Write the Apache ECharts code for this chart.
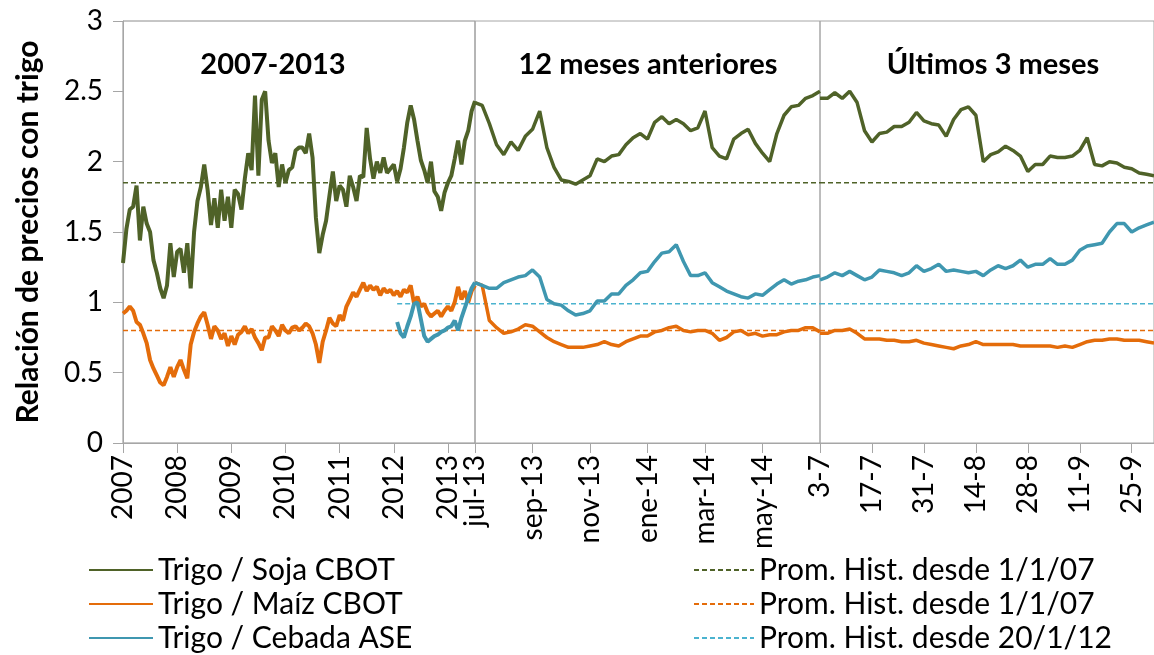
<!DOCTYPE html>
<html>
<head>
<meta charset="utf-8">
<script src="https://cdn.jsdelivr.net/npm/echarts@6/dist/echarts.min.js"></script>
<style>
html, body { margin: 0; padding: 0; background: #fff; }
#main { width: 1154px; height: 655px; }
</style>
</head>
<body>
<div id="main"></div>
<script>
// 2007-2013: un valor cada 1/16 de año desde 1/1/2007
const sojaHist = [1.28, 1.52, 1.66, 1.68, 1.83, 1.44, 1.68, 1.56, 1.50, 1.30, 1.21, 1.10, 1.03, 1.12, 1.42, 1.18,
  1.36, 1.38, 1.21, 1.42, 1.10, 1.50, 1.72, 1.82, 1.98, 1.80, 1.55, 1.74, 1.53, 1.80, 1.58, 1.75,
  1.53, 1.80, 1.77, 1.66, 1.88, 2.06, 1.94, 2.47, 1.90, 2.44, 2.50, 2.15, 1.99, 2.06, 1.82, 1.98,
  1.85, 1.94, 1.96, 2.08, 2.10, 2.10, 2.06, 2.20, 2.03, 1.60, 1.35, 1.48, 1.58, 1.76, 1.93, 1.72,
  1.83, 1.80, 1.68, 1.90, 1.82, 1.72, 1.90, 1.89, 2.24, 2.02, 1.88, 2.00, 1.92, 2.03, 1.92, 1.95,
  1.98, 1.86, 1.95, 2.10, 2.28, 2.40, 2.30, 2.15, 2.01, 1.94, 1.85, 2.00, 1.79, 1.75, 1.65, 1.78,
  1.85, 1.90, 2.02, 2.15, 1.98, 2.15, 2.22, 2.36, 2.43];
const maizHist = [0.92, 0.94, 0.97, 0.94, 0.86, 0.84, 0.78, 0.71, 0.59, 0.53, 0.48, 0.43, 0.41, 0.47, 0.54, 0.47,
  0.54, 0.59, 0.52, 0.46, 0.70, 0.79, 0.85, 0.90, 0.93, 0.84, 0.74, 0.83, 0.80, 0.74, 0.78, 0.69,
  0.76, 0.70, 0.77, 0.79, 0.83, 0.78, 0.81, 0.75, 0.71, 0.66, 0.75, 0.75, 0.83, 0.80, 0.76, 0.84,
  0.80, 0.78, 0.82, 0.83, 0.80, 0.82, 0.85, 0.83, 0.78, 0.70, 0.57, 0.72, 0.80, 0.89, 0.85, 0.83,
  0.91, 0.87, 0.97, 1.02, 1.07, 1.04, 1.09, 1.14, 1.08, 1.12, 1.09, 1.11, 1.05, 1.10, 1.07, 1.09,
  1.05, 1.08, 1.04, 1.09, 1.07, 1.12, 0.99, 1.04, 0.97, 0.99, 0.93, 0.90, 0.92, 0.94, 0.90, 0.94,
  0.97, 0.94, 1.00, 1.11, 1.02, 1.08, 1.00, 1.08, 1.12];
// cebada ASE desde ene-2012, mismo paso
const cebadaHistInicio = 2012.0625;
const cebadaHist = [0.86, 0.78, 0.75, 0.83, 0.90, 0.99, 1.00, 0.88, 0.76, 0.72, 0.74, 0.76, 0.77, 0.79, 0.80, 0.82,
  0.83, 0.87, 0.80, 0.89, 0.96, 1.03, 1.10, 1.14];

// 12 meses anteriores: un valor por semana (0.25 mes) desde jul-13
const soja12m = [2.42, 2.40, 2.27, 2.12, 2.05, 2.14, 2.08, 2.18, 2.23, 2.36, 2.10, 1.96, 1.87, 1.86, 1.84, 1.87,
  1.90, 2.02, 2.00, 2.04, 2.05, 2.12, 2.17, 2.20, 2.16, 2.28, 2.32, 2.27, 2.30, 2.27, 2.22, 2.24,
  2.36, 2.10, 2.04, 2.02, 2.16, 2.20, 2.23, 2.13, 2.06, 2.00, 2.20, 2.33, 2.39, 2.40, 2.45, 2.47, 2.50];
const maiz12m = [1.14, 1.12, 0.87, 0.82, 0.78, 0.79, 0.81, 0.84, 0.83, 0.79, 0.75, 0.72, 0.70, 0.68, 0.68, 0.68,
  0.69, 0.70, 0.72, 0.70, 0.69, 0.72, 0.74, 0.76, 0.76, 0.79, 0.80, 0.82, 0.83, 0.80, 0.79, 0.80,
  0.80, 0.78, 0.73, 0.75, 0.79, 0.80, 0.77, 0.78, 0.76, 0.77, 0.77, 0.79, 0.80, 0.80, 0.82, 0.82, 0.79];
const cebada12m = [1.14, 1.12, 1.10, 1.10, 1.14, 1.16, 1.18, 1.19, 1.23, 1.18, 1.02, 0.99, 0.98, 0.94, 0.91, 0.92,
  0.94, 1.01, 1.01, 1.06, 1.06, 1.12, 1.16, 1.21, 1.22, 1.29, 1.35, 1.36, 1.41, 1.29, 1.19, 1.19,
  1.21, 1.14, 1.11, 1.08, 1.06, 1.04, 1.03, 1.06, 1.05, 1.09, 1.13, 1.16, 1.13, 1.15, 1.16, 1.18, 1.19];

// últimos 3 meses: un valor cada 2 días desde 3-7
const soja3m = [2.45, 2.45, 2.49, 2.45, 2.50, 2.42, 2.22, 2.14, 2.20, 2.21, 2.25, 2.25, 2.28, 2.35, 2.29, 2.27,
  2.26, 2.18, 2.30, 2.37, 2.39, 2.33, 2.00, 2.05, 2.07, 2.11, 2.08, 2.04, 1.93, 1.98, 1.98, 2.04,
  2.03, 2.03, 2.04, 2.08, 2.17, 1.98, 1.97, 2.00, 1.99, 1.96, 1.95, 1.92, 1.91, 1.90];
const maiz3m = [0.78, 0.78, 0.80, 0.80, 0.81, 0.78, 0.74, 0.74, 0.74, 0.73, 0.73, 0.72, 0.72, 0.73, 0.71, 0.70,
  0.69, 0.68, 0.67, 0.69, 0.70, 0.72, 0.70, 0.70, 0.70, 0.70, 0.70, 0.69, 0.69, 0.69, 0.69, 0.69,
  0.68, 0.69, 0.68, 0.70, 0.72, 0.73, 0.73, 0.74, 0.74, 0.73, 0.73, 0.73, 0.72, 0.71];
const cebada3m = [1.16, 1.18, 1.21, 1.19, 1.22, 1.19, 1.16, 1.18, 1.23, 1.22, 1.21, 1.19, 1.21, 1.26, 1.22, 1.24,
  1.27, 1.22, 1.23, 1.22, 1.21, 1.22, 1.19, 1.23, 1.26, 1.24, 1.26, 1.30, 1.25, 1.27, 1.27, 1.31,
  1.27, 1.27, 1.30, 1.37, 1.40, 1.41, 1.42, 1.50, 1.56, 1.56, 1.50, 1.53, 1.55, 1.57];

// promedios históricos
const promSoja = 1.85;
const promMaiz = 0.80;
const promCebada = 0.99;

// etiquetas de los ejes
const yearLabels = ['2007', '2008', '2009', '2010', '2011', '2012', '2013'];
const monthLabels = ['jul-13', 'sep-13', 'nov-13', 'ene-14', 'mar-14', 'may-14'];
const dayLabels = ['3-7', '17-7', '31-7', '14-8', '28-8', '11-9', '25-9'];
const panelTitles = ['2007-2013', '12 meses anteriores', 'Últimos 3 meses'];

const FONT = 'Lato';
const C_SOJA = '#4f6228', C_MAIZ = '#e46c0a', C_CEBADA = '#3f97b0', C_CEBADA_PROM = '#4bb3cf';
const N_SOJA = 'Trigo / Soja CBOT', N_MAIZ = 'Trigo / Maíz CBOT', N_CEBADA = 'Trigo / Cebada ASE';
const P_SOJA = 'prom-soja', P_MAIZ = 'prom-maiz', P_CEBADA = 'prom-cebada';
const promLabels = {};
promLabels[P_SOJA] = 'Prom. Hist. desde 1/1/07';
promLabels[P_MAIZ] = 'Prom. Hist. desde 1/1/07';
promLabels[P_CEBADA] = 'Prom. Hist. desde 20/1/12';

// rango x de cada panel
const ranges = [[2007, 2013.5], [0, 12], [0, 90]];

function solid(name, color, grid, points) {
  return {
    name: name, type: 'line', xAxisIndex: grid, yAxisIndex: grid,
    data: points, showSymbol: false, symbol: 'none', z: 3,
    // el tramo diario 2007-2013 se ve más grueso en el original
    lineStyle: { color: color, width: grid === 0 ? 4 : 3.5 }, itemStyle: { color: color }
  };
}
function dashed(name, color, grid, from, value) {
  return {
    name: name, type: 'line', xAxisIndex: grid, yAxisIndex: grid,
    data: [[from, value], [ranges[grid][1], value]], showSymbol: false, symbol: 'none', z: 2,
    lineStyle: { color: color, width: 1.5, type: [5, 3] }, itemStyle: { color: color }
  };
}

const hist = (arr, start) => arr.map((v, i) => [start + i / 16, v]);
const weekly = arr => arr.map((v, i) => [i * 0.25, v]);
const everyTwoDays = arr => arr.map((v, i) => [i * 2, v]);

const gridLine = { color: '#a6a6a6', width: 1 };
const isInt = v => Math.abs(v - Math.round(v)) < 1e-6;

function xAxis(grid, interval, formatter) {
  return {
    gridIndex: grid, type: 'value', min: ranges[grid][0], max: ranges[grid][1], interval: interval,
    axisLine: { show: true, lineStyle: gridLine },
    axisTick: { show: true, length: 10, lineStyle: gridLine },
    axisLabel: { rotate: 90, margin: 12, fontFamily: FONT, fontSize: 28, color: '#000', formatter: formatter },
    splitLine: { show: false }
  };
}

// una leyenda por entrada, para fijar cada fila
function legendItem(name, left, row, width, formatter) {
  return {
    data: [name], orient: 'horizontal', left: left, top: 555 + row * 34, padding: 0,
    itemWidth: width, itemHeight: 14, selectedMode: false,
    itemStyle: { opacity: 0 },
    formatter: formatter,
    textStyle: { fontFamily: FONT, fontSize: 30, color: '#000', lineHeight: 30 }
  };
}

const grids = [
  { left: 123, top: 21, width: 352, height: 422, borderColor: '#8c8c8c' },
  { left: 475, top: 21, width: 345, height: 422, borderColor: '#a6a6a6' },
  { left: 820, top: 21, width: 336, height: 422, borderColor: '#a6a6a6' }
].map(g => Object.assign(g, { show: true, borderWidth: 1, containLabel: false }));

const option = {
  animation: false,
  backgroundColor: '#fff',
  grid: grids,
  xAxis: [
    xAxis(0, 1, v => isInt(v) ? (yearLabels[Math.round(v) - 2007] || '') : ''),
    xAxis(1, 2, v => isInt(v / 2) ? (monthLabels[Math.round(v / 2)] || '') : ''),
    xAxis(2, 14, v => isInt(v / 14) ? (dayLabels[Math.round(v / 14)] || '') : '')
  ],
  yAxis: [
    {
      gridIndex: 0, type: 'value', min: 0, max: 3, interval: 0.5,
      name: 'Relación de precios con trigo', nameLocation: 'middle', nameGap: 80,
      nameTextStyle: { fontFamily: FONT, fontWeight: 'bold', fontSize: 30, color: '#000' },
      axisLine: { show: true, lineStyle: gridLine },
      axisTick: { show: true, length: 10, lineStyle: gridLine },
      axisLabel: { fontFamily: FONT, fontSize: 28, color: '#000', margin: 20 },
      splitLine: { show: false }
    },
    { gridIndex: 1, type: 'value', min: 0, max: 3, interval: 0.5, show: false },
    { gridIndex: 2, type: 'value', min: 0, max: 3, interval: 0.5, show: false }
  ],
  graphic: panelTitles.map((t, i) => ({
    type: 'text', x: [273, 648, 993][i], y: 65,
    style: { text: t, fontFamily: FONT, fontWeight: 'bold', fontSize: 29, fill: '#000',
      textAlign: 'center', textVerticalAlign: 'middle' }
  })),
  legend: [
    legendItem(N_SOJA, 88, 0, 64),
    legendItem(N_MAIZ, 88, 1, 64),
    legendItem(N_CEBADA, 88, 2, 64),
    legendItem(P_SOJA, 693, 0, 60, n => promLabels[n]),
    legendItem(P_MAIZ, 693, 1, 60, n => promLabels[n]),
    legendItem(P_CEBADA, 693, 2, 60, n => promLabels[n])
  ],
  series: [
    dashed(P_SOJA, C_SOJA, 0, ranges[0][0], promSoja),
    dashed(P_SOJA, C_SOJA, 1, 0, promSoja),
    dashed(P_SOJA, C_SOJA, 2, 0, promSoja),
    dashed(P_MAIZ, C_MAIZ, 0, ranges[0][0], promMaiz),
    dashed(P_MAIZ, C_MAIZ, 1, 0, promMaiz),
    dashed(P_MAIZ, C_MAIZ, 2, 0, promMaiz),
    dashed(P_CEBADA, C_CEBADA_PROM, 0, cebadaHistInicio, promCebada),
    dashed(P_CEBADA, C_CEBADA_PROM, 1, 0, promCebada),
    dashed(P_CEBADA, C_CEBADA_PROM, 2, 0, promCebada),
    solid(N_SOJA, C_SOJA, 0, hist(sojaHist, 2007)),
    solid(N_SOJA, C_SOJA, 1, weekly(soja12m)),
    solid(N_SOJA, C_SOJA, 2, everyTwoDays(soja3m)),
    solid(N_MAIZ, C_MAIZ, 0, hist(maizHist, 2007)),
    solid(N_MAIZ, C_MAIZ, 1, weekly(maiz12m)),
    solid(N_MAIZ, C_MAIZ, 2, everyTwoDays(maiz3m)),
    solid(N_CEBADA, C_CEBADA, 0, hist(cebadaHist, cebadaHistInicio)),
    solid(N_CEBADA, C_CEBADA, 1, weekly(cebada12m)),
    solid(N_CEBADA, C_CEBADA, 2, everyTwoDays(cebada3m))
  ]
};

const myChart = echarts.init(document.getElementById('main'));
myChart.setOption(option);
</script>
</body>
</html>
